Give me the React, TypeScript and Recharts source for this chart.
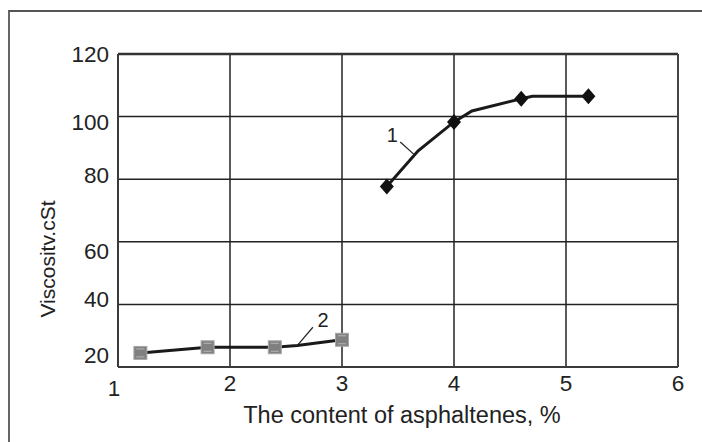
import React from 'react';
import {
  ComposedChart,
  Line,
  Scatter,
  XAxis,
  YAxis,
  CartesianGrid,
  ReferenceLine,
  ReferenceDot,
  Label,
} from 'recharts';

// curve 1 (diamonds) - line follows a few bend points between markers
const curve1X = [3.4, 3.68, 4.0, 4.16, 4.6, 4.7, 5.2];
const curve1Y = [77.7, 89.1, 98.3, 101.8, 105.7, 106.5, 106.5];
const marker1X = [3.4, 4.0, 4.6, 5.2];
const marker1Y = [77.7, 98.3, 105.7, 106.5];

// curve 2 (grey squares)
const curve2X = [1.2, 1.8, 2.4, 2.6, 3.0];
const curve2Y = [24.5, 26.3, 26.3, 26.9, 28.7];
const marker2X = [1.2, 1.8, 2.4, 3.0];
const marker2Y = [24.5, 26.3, 26.3, 28.7];

const xTicks = [1, 2, 3, 4, 5, 6];
const yTicks = [20, 40, 60, 80, 100, 120];

const xTitle = 'The content of asphaltenes, %';
const yTitle = 'Viscositv.cSt';

const FONT = '"Liberation Sans", Arial, sans-serif';
const INK = '#222';

const zip = (xs: number[], ys: number[]) => xs.map((x, i) => ({ x, y: ys[i] }));

const curve1 = zip(curve1X, curve1Y);
const marker1 = zip(marker1X, marker1Y);
const curve2 = zip(curve2X, curve2Y);
const marker2 = zip(marker2X, marker2Y);

// small nudges so the labels sit like the scanned original
const yTickShift: Record<number, number> = { 120: 0, 100: 5, 80: -4, 60: 9, 40: -5, 20: -12 };

const XTick = (props: any) => {
  const { x, y, payload } = props;
  const v = payload.value;
  const dx = v === 1 ? -4 : 0;
  const dy = v === 1 ? 5 : 0;
  return (
    <text x={x + dx} y={y + dy} dy="0.71em" textAnchor="middle" fontSize={22.5} fill={INK} fontFamily={FONT}>
      {v}
    </text>
  );
};

const YTick = (props: any) => {
  const { x, y, payload } = props;
  const v = payload.value;
  return (
    <text x={x} y={y + (yTickShift[v] || 0)} dy="0.355em" textAnchor="end" fontSize={22.5} fill={INK} fontFamily={FONT}>
      {v}
    </text>
  );
};

const Diamond = (props: any) => {
  const { cx, cy } = props;
  return <polygon points={`${cx},${cy - 8} ${cx + 7},${cy} ${cx},${cy + 8} ${cx - 7},${cy}`} fill="#111" />;
};

const Square = (props: any) => {
  const { cx, cy } = props;
  return (
    <g>
      <rect x={cx - 6.5} y={cy - 6.5} width={13} height={13} fill="#808080" stroke="#a8a8a8" strokeWidth={1} />
      <line x1={cx - 4} x2={cx + 4} y1={cy - 4} y2={cy - 4} stroke="#b5b5b5" strokeWidth={1} />
      <line x1={cx - 4} x2={cx + 4} y1={cy + 4} y2={cy + 4} stroke="#b5b5b5" strokeWidth={1} />
    </g>
  );
};

export default function App() {
  return (
    <div style={{ position: 'absolute', left: 0, top: 0, width: 702, height: 442, background: '#fff', overflow: 'hidden' }}>
      <div
        style={{
          position: 'absolute',
          left: 8,
          top: 10,
          width: 720,
          height: 460,
          borderTop: '2px solid #555',
          borderLeft: '2.5px solid #666',
        }}
      />
      <div style={{ position: 'absolute', left: 0, top: 0 }}>
        <ComposedChart width={702} height={442} margin={{ top: 54, right: 24, left: 58, bottom: 35 }}>
          <CartesianGrid stroke="#222" strokeWidth={1.5} />
          <XAxis
            type="number"
            dataKey="x"
            domain={[1, 6]}
            ticks={xTicks}
            interval={0}
            height={40}
            tickLine={false}
            tickSize={8}
            tickMargin={0}
            axisLine={{ stroke: '#3a3a3a', strokeWidth: 2 }}
            tick={<XTick />}
          >
            <Label
              content={() => (
                <text x={402} y={423} textAnchor="middle" fontSize={23.5} fill={INK} fontFamily={FONT}>
                  {xTitle}
                </text>
              )}
            />
          </XAxis>
          <YAxis
            type="number"
            dataKey="y"
            domain={[20, 120]}
            ticks={yTicks}
            interval={0}
            width={60}
            tickLine={false}
            tickSize={9}
            tickMargin={0}
            axisLine={{ stroke: '#3a3a3a', strokeWidth: 2 }}
            tick={<YTick />}
          >
            <Label
              content={() => (
                <text
                  x={47}
                  y={259}
                  transform="rotate(-90 47 259)"
                  textAnchor="middle"
                  dominantBaseline="central"
                  fontSize={21}
                  fill={INK}
                  fontFamily={FONT}
                >
                  {yTitle}
                </text>
              )}
            />
          </YAxis>
          <ReferenceLine y={120} stroke="#333" strokeWidth={2.5} />
          <ReferenceLine x={6} stroke="#444" strokeWidth={2} />

          <Line data={curve2} dataKey="y" type="linear" stroke="#1a1a1a" strokeWidth={3} dot={false} isAnimationActive={false} />
          <Line data={curve1} dataKey="y" type="linear" stroke="#1a1a1a" strokeWidth={3} dot={false} isAnimationActive={false} />
          <Scatter data={marker2} shape={<Square />} isAnimationActive={false} />
          <Scatter data={marker1} shape={<Diamond />} isAnimationActive={false} />

          <ReferenceLine segment={[{ x: 3.52, y: 91.9 }, { x: 3.65, y: 87.7 }]} stroke="#222" strokeWidth={1.2} />
          <ReferenceLine segment={[{ x: 2.74, y: 32.7 }, { x: 2.6, y: 26.8 }]} stroke="#222" strokeWidth={1.2} />
          <ReferenceDot x={3.45} y={94.1} r={0} stroke="none" fill="none" label={{ value: '1', position: 'center', fontSize: 20, fill: INK, fontFamily: FONT }} />
          <ReferenceDot x={2.83} y={35} r={0} stroke="none" fill="none" label={{ value: '2', position: 'center', fontSize: 20, fill: INK, fontFamily: FONT }} />
        </ComposedChart>
      </div>
    </div>
  );
}
